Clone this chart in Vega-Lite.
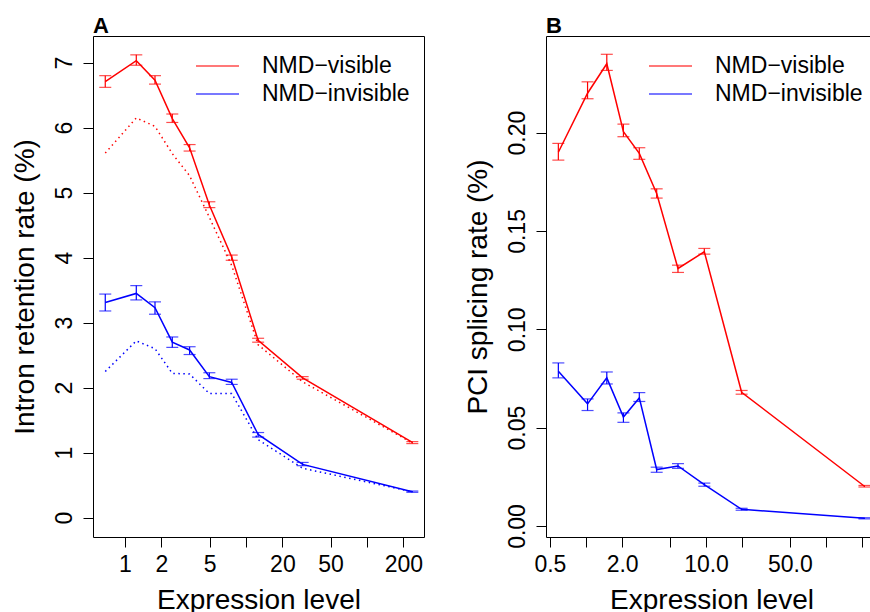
{
  "$schema": "https://vega.github.io/schema/vega-lite/v6.json",
  "background": "white",
  "padding": {"left": 10, "top": 14, "right": 0, "bottom": 0},
  "spacing": 38,
  "config": {
    "font": "Liberation Sans",
    "view": {"stroke": "black", "strokeWidth": 1},
    "axis": {
      "domain": false,
      "grid": false,
      "tickColor": "black",
      "tickSize": 10,
      "tickWidth": 1,
      "labelColor": "black",
      "titleColor": "black",
      "labelFont": "Liberation Sans",
      "titleFont": "Liberation Sans",
      "labelFontSize": 23,
      "titleFontSize": 28,
      "titleFontWeight": "normal",
      "labelOverlap": false,
      "labelFlush": false
    },
    "axisY": {"labelAngle": -90, "labelPadding": 7, "titlePadding": 14},
    "axisX": {"labelPadding": 6, "titlePadding": 10},
    "legend": {
      "orient": "none",
      "symbolType": "stroke",
      "symbolSize": 1849,
      "symbolStrokeWidth": 1.5,
      "labelFont": "Liberation Sans",
      "labelFontSize": 23,
      "labelColor": "black",
      "labelOffset": 22,
      "clipHeight": 26,
      "rowPadding": 2,
      "padding": 0
    },
    "title": {"font": "Liberation Sans", "fontSize": 22, "fontWeight": "bold", "anchor": "start", "frame": "group", "color": "black", "offset": -2}
  },
  "datasets": {
    "A": [
      {"x": 0.687, "grp": "NMD−visible", "y": 6.71, "lo": 6.62, "hi": 6.80, "dot": 5.61},
      {"x": 1.24, "grp": "NMD−visible", "y": 7.03, "lo": 6.96, "hi": 7.12, "dot": 6.15},
      {"x": 1.77, "grp": "NMD−visible", "y": 6.73, "lo": 6.67, "hi": 6.80, "dot": 6.02},
      {"x": 2.46, "grp": "NMD−visible", "y": 6.14, "lo": 6.08, "hi": 6.21, "dot": 5.60},
      {"x": 3.42, "grp": "NMD−visible", "y": 5.69, "lo": 5.64, "hi": 5.74, "dot": 5.26},
      {"x": 4.98, "grp": "NMD−visible", "y": 4.81, "lo": 4.77, "hi": 4.86, "dot": 4.62},
      {"x": 7.62, "grp": "NMD−visible", "y": 4.01, "lo": 3.96, "hi": 4.04, "dot": 3.88},
      {"x": 12.6, "grp": "NMD−visible", "y": 2.73, "lo": 2.70, "hi": 2.76, "dot": 2.66},
      {"x": 29.4, "grp": "NMD−visible", "y": 2.15, "lo": 2.13, "hi": 2.17, "dot": 2.09},
      {"x": 237, "grp": "NMD−visible", "y": 1.16, "lo": 1.14, "hi": 1.17, "dot": 1.15},
      {"x": 0.687, "grp": "NMD−invisible", "y": 3.31, "lo": 3.18, "hi": 3.44, "dot": 2.25},
      {"x": 1.24, "grp": "NMD−invisible", "y": 3.45, "lo": 3.35, "hi": 3.57, "dot": 2.72},
      {"x": 1.77, "grp": "NMD−invisible", "y": 3.23, "lo": 3.13, "hi": 3.32, "dot": 2.60},
      {"x": 2.46, "grp": "NMD−invisible", "y": 2.70, "lo": 2.62, "hi": 2.78, "dot": 2.22},
      {"x": 3.42, "grp": "NMD−invisible", "y": 2.58, "lo": 2.51, "hi": 2.63, "dot": 2.21},
      {"x": 4.98, "grp": "NMD−invisible", "y": 2.17, "lo": 2.14, "hi": 2.23, "dot": 1.91},
      {"x": 7.62, "grp": "NMD−invisible", "y": 2.08, "lo": 2.05, "hi": 2.13, "dot": 1.91},
      {"x": 12.6, "grp": "NMD−invisible", "y": 1.28, "lo": 1.24, "hi": 1.31, "dot": 1.20},
      {"x": 29.4, "grp": "NMD−invisible", "y": 0.82, "lo": 0.80, "hi": 0.85, "dot": 0.76},
      {"x": 237, "grp": "NMD−invisible", "y": 0.40, "lo": 0.39, "hi": 0.41, "dot": 0.40}
    ],
    "B": [
      {"x": 0.588, "grp": "NMD−visible", "y": 0.190, "lo": 0.186, "hi": 0.1945},
      {"x": 1.03, "grp": "NMD−visible", "y": 0.220, "lo": 0.2172, "hi": 0.2258},
      {"x": 1.49, "grp": "NMD−visible", "y": 0.235, "lo": 0.2316, "hi": 0.2398},
      {"x": 2.05, "grp": "NMD−visible", "y": 0.2004, "lo": 0.1979, "hi": 0.2043},
      {"x": 2.78, "grp": "NMD−visible", "y": 0.1894, "lo": 0.1864, "hi": 0.1923},
      {"x": 3.88, "grp": "NMD−visible", "y": 0.169, "lo": 0.1667, "hi": 0.1714},
      {"x": 5.84, "grp": "NMD−visible", "y": 0.1309, "lo": 0.1289, "hi": 0.1326},
      {"x": 9.68, "grp": "NMD−visible", "y": 0.1394, "lo": 0.1382, "hi": 0.1411},
      {"x": 19.8, "grp": "NMD−visible", "y": 0.068, "lo": 0.067, "hi": 0.0689},
      {"x": 209, "grp": "NMD−visible", "y": 0.0202, "lo": 0.0198, "hi": 0.0206},
      {"x": 0.588, "grp": "NMD−invisible", "y": 0.0787, "lo": 0.0753, "hi": 0.0829},
      {"x": 1.03, "grp": "NMD−invisible", "y": 0.0621, "lo": 0.0587, "hi": 0.0646},
      {"x": 1.49, "grp": "NMD−invisible", "y": 0.0753, "lo": 0.0722, "hi": 0.0783},
      {"x": 2.05, "grp": "NMD−invisible", "y": 0.0554, "lo": 0.0527, "hi": 0.0575},
      {"x": 2.78, "grp": "NMD−invisible", "y": 0.0651, "lo": 0.0633, "hi": 0.0678},
      {"x": 3.88, "grp": "NMD−invisible", "y": 0.0287, "lo": 0.0273, "hi": 0.0299},
      {"x": 5.84, "grp": "NMD−invisible", "y": 0.0305, "lo": 0.0293, "hi": 0.0317},
      {"x": 9.68, "grp": "NMD−invisible", "y": 0.0210, "lo": 0.0202, "hi": 0.0218},
      {"x": 19.8, "grp": "NMD−invisible", "y": 0.0085, "lo": 0.0080, "hi": 0.0090},
      {"x": 209, "grp": "NMD−invisible", "y": 0.0039, "lo": 0.0036, "hi": 0.0042}
    ]
  },
  "resolve": {
    "scale": {"color": "independent", "x": "independent", "y": "independent"},
    "legend": {"color": "independent"}
  },
  "hconcat": [
    {
      "title": {"text": "A"},
      "width": 331,
      "height": 501,
      "data": {"name": "A"},
      "encoding": {
        "x": {
          "field": "x", "type": "quantitative",
          "scale": {"type": "log", "domain": [0.544, 296], "nice": false},
          "axis": {
            "title": "Expression level",
            "values": [1, 2, 5, 10, 20, 50, 100, 200],
            "labelExpr": "datum.value == 10 || datum.value == 100 ? '' : datum.value + ''"
          }
        },
        "color": {
          "field": "grp", "type": "nominal",
          "scale": {"domain": ["NMD−visible", "NMD−invisible"], "range": ["#FF0000", "#0000FF"]},
          "legend": {"title": null, "legendX": 102, "legendY": 17}
        }
      },
      "layer": [
        {
          "mark": {"type": "line", "strokeWidth": 1.5},
          "encoding": {
            "y": {
              "field": "y", "type": "quantitative",
              "scale": {"domain": [-0.297, 7.41], "nice": false, "zero": false},
              "axis": {"title": "Intron retention rate (%)", "values": [0, 1, 2, 3, 4, 5, 6, 7], "format": "d"}
            }
          }
        },
        {
          "mark": {"type": "line", "strokeWidth": 1.5, "strokeDash": [1.5, 3.5]},
          "encoding": {"y": {"field": "dot", "type": "quantitative"}}
        },
        {
          "mark": {"type": "rule", "strokeWidth": 1.2},
          "encoding": {"y": {"field": "lo", "type": "quantitative"}, "y2": {"field": "hi"}}
        },
        {
          "mark": {"type": "tick", "orient": "horizontal", "size": 12, "thickness": 1.2},
          "encoding": {"y": {"field": "lo", "type": "quantitative"}}
        },
        {
          "mark": {"type": "tick", "orient": "horizontal", "size": 12, "thickness": 1.2},
          "encoding": {"y": {"field": "hi", "type": "quantitative"}}
        }
      ]
    },
    {
      "title": {"text": "B"},
      "width": 331,
      "height": 501,
      "data": {"name": "B"},
      "encoding": {
        "x": {
          "field": "x", "type": "quantitative",
          "scale": {"type": "log", "domain": [0.464, 266], "nice": false},
          "axis": {
            "title": "Expression level",
            "values": [0.5, 1, 2, 5, 10, 20, 50, 100, 200],
            "labelExpr": "datum.value == 0.5 || datum.value == 2 || datum.value == 10 || datum.value == 50 ? format(datum.value, '.1f') : ''"
          }
        },
        "color": {
          "field": "grp", "type": "nominal",
          "scale": {"domain": ["NMD−visible", "NMD−invisible"], "range": ["#FF0000", "#0000FF"]},
          "legend": {"title": null, "legendX": 102, "legendY": 17}
        }
      },
      "layer": [
        {
          "mark": {"type": "line", "strokeWidth": 1.5},
          "encoding": {
            "y": {
              "field": "y", "type": "quantitative",
              "scale": {"domain": [-0.0056, 0.2491], "nice": false, "zero": false},
              "axis": {"title": "PCI splicing rate (%)", "values": [0, 0.05, 0.1, 0.15, 0.2], "format": ".2f"}
            }
          }
        },
        {
          "mark": {"type": "rule", "strokeWidth": 1.2},
          "encoding": {"y": {"field": "lo", "type": "quantitative"}, "y2": {"field": "hi"}}
        },
        {
          "mark": {"type": "tick", "orient": "horizontal", "size": 12, "thickness": 1.2},
          "encoding": {"y": {"field": "lo", "type": "quantitative"}}
        },
        {
          "mark": {"type": "tick", "orient": "horizontal", "size": 12, "thickness": 1.2},
          "encoding": {"y": {"field": "hi", "type": "quantitative"}}
        }
      ]
    }
  ]
}
